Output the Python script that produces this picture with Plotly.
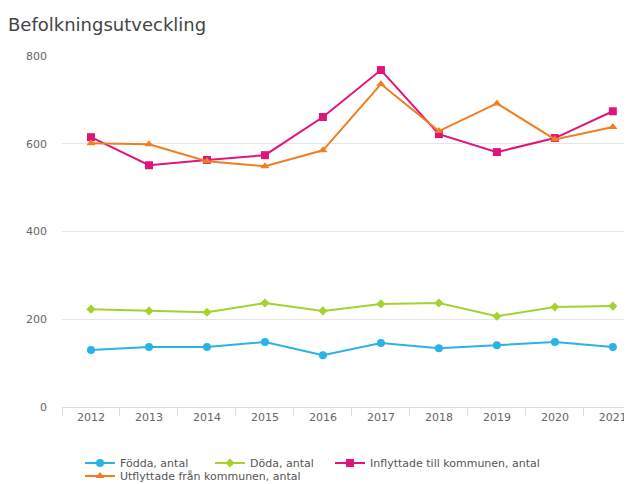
import plotly.graph_objects as go

years = ["2012", "2013", "2014", "2015", "2016", "2017", "2018", "2019", "2020", "2021"]
fodda = [130, 137, 137, 148, 118, 146, 134, 141, 148, 137]
doda = [223, 219, 216, 237, 219, 235, 237, 207, 228, 230]
inflyttade = [615, 551, 563, 574, 661, 768, 622, 581, 613, 674]
utflyttade = [601, 599, 560, 549, 585, 736, 629, 692, 610, 638]

# page body has an 8px margin, so the figure is drawn 8px smaller
W, H = 624, 476

# (name, values, colour, marker, size, legend id, legend x px, legend y px)
series = [
    ("Födda, antal", fodda, "#29b3e6", "circle", 8, "legend", 72, 455),
    ("Döda, antal", doda, "#a5d22f", "diamond", 7, "legend2", 202, 455),
    ("Inflyttade till kommunen, antal", inflyttade, "#e0157c", "square", 8, "legend3", 322, 455),
    ("Utflyttade från kommunen, antal", utflyttade, "#f07f22", "triangle-up", 8, "legend4", 72, 468),
]

fig = go.Figure()
legends = {}
for name, vals, col, sym, size, leg, lx, ly in series:
    fig.add_trace(go.Scatter(
        x=years, y=vals, name=name, mode="lines+markers",
        line=dict(color=col, width=2),
        marker=dict(symbol=sym, size=size, color=col),
        legend=leg,
    ))
    legends[leg] = dict(orientation="h", xref="container", yref="container",
                        x=lx / W, y=1 - ly / H, xanchor="left", yanchor="middle",
                        font=dict(size=11, color="#555555"), itemwidth=30,
                        bgcolor="rgba(0,0,0,0)")

fig.update_layout(
    width=W, height=H,
    paper_bgcolor="white", plot_bgcolor="white",
    font=dict(family="DejaVu Sans", size=10, color="#666666"),
    title=dict(text="Befolkningsutveckling", x=0, xanchor="left",
               y=1 - 17 / H, yanchor="middle",
               font=dict(family="DejaVu Sans", size=18, color="#444444")),
    margin=dict(l=54, r=0, t=48, b=77, autoexpand=False),
    showlegend=True,
    **legends,
)
fig.update_xaxes(
    type="category", range=[-0.5, 9.33], automargin=False,
    showgrid=False, showline=True, linecolor="#d8dde6", linewidth=1,
    ticks="outside", tickson="boundaries", ticklen=8, tickcolor="#d8dde6",
    tickfont=dict(size=11, color="#666666"),
)
fig.update_yaxes(
    range=[0, 800], tickvals=[0, 200, 400, 600, 800], automargin=False,
    showgrid=True, gridcolor="#e6e6e6", gridwidth=1,
    zeroline=False, showline=False, ticks="", ticklabelstandoff=14,
    tickfont=dict(size=11, color="#666666"),
)

fig.write_html("out.html")
